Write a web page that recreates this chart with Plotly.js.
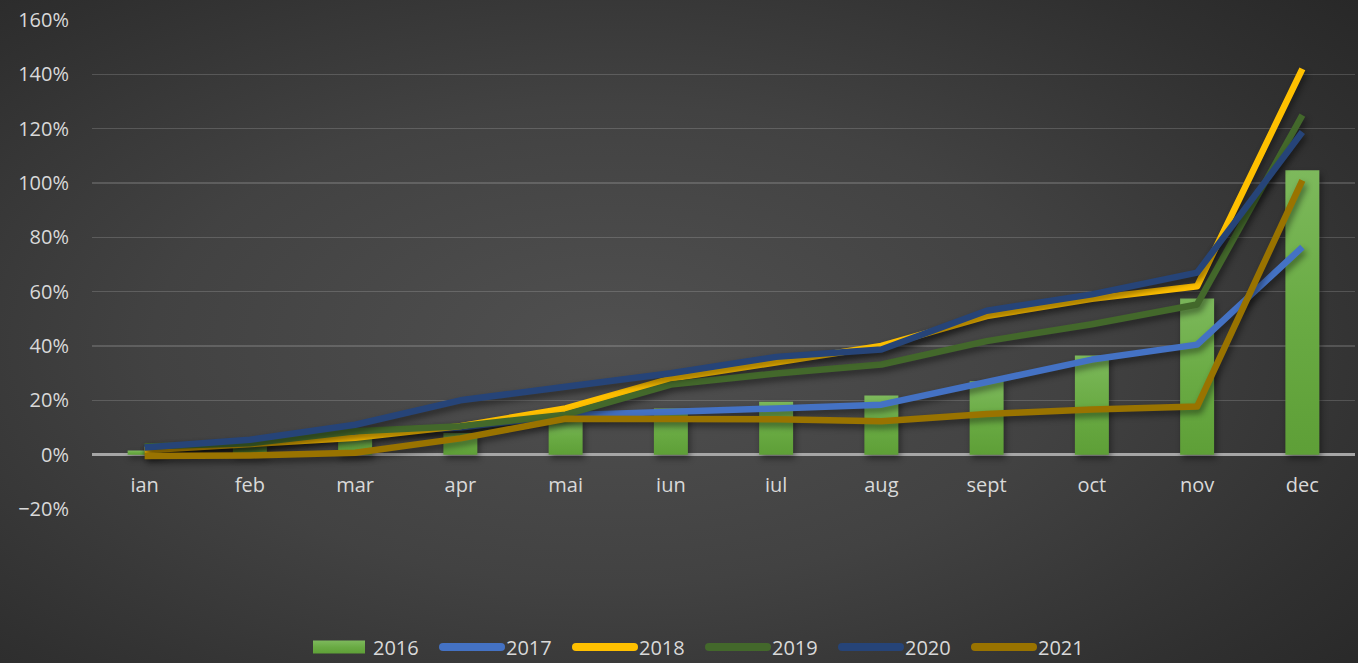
<!DOCTYPE html>
<html>
<head>
<meta charset="utf-8">
<script src="https://cdn.plot.ly/plotly-3.0.1.min.js"></script>
<style>
  html, body { margin: 0; padding: 0; }
  body {
    width: 1358px; height: 663px; overflow: hidden;
    background: radial-gradient(ellipse 75% 80% at 45% 52%, #505050 0%, #424242 45%, #303030 80%, #272727 100%);
  }
  #chart { width: 1358px; height: 663px; }
  .scatterlayer .js-line { filter: drop-shadow(2px 4px 3px rgba(0,0,0,0.45)); stroke-linejoin: round; }
  .barlayer .point path { filter: drop-shadow(2px 4px 3px rgba(0,0,0,0.4)); }
  .legend .legendlines path { stroke-width: 8px !important; stroke-linecap: round; }
</style>
</head>
<body>
<div id="chart"></div>
<script>
const months = ['ian','feb','mar','apr','mai','iun','iul','aug','sept','oct','nov','dec'];
const yTickVals = [-0.2, 0, 0.2, 0.4, 0.6, 0.8, 1.0, 1.2, 1.4, 1.6];

const s2016 = [0.015, 0.03, 0.06, 0.08, 0.13, 0.17, 0.195, 0.218, 0.27, 0.365, 0.575, 1.047];
const s2017 = [0.02, 0.04, 0.08, 0.10, 0.145, 0.156, 0.17, 0.184, 0.265, 0.35, 0.405, 0.764];
const s2018 = [0.016, 0.037, 0.062, 0.105, 0.17, 0.28, 0.34, 0.40, 0.51, 0.574, 0.62, 1.42];
const s2019 = [0.03, 0.042, 0.086, 0.105, 0.147, 0.258, 0.299, 0.332, 0.418, 0.48, 0.553, 1.25];
const s2020 = [0.026, 0.055, 0.11, 0.20, 0.25, 0.30, 0.36, 0.387, 0.53, 0.59, 0.67, 1.188];
const s2021 = [-0.005, -0.003, 0.007, 0.06, 0.132, 0.131, 0.13, 0.123, 0.15, 0.166, 0.177, 1.01];

const lineSeries = [
  {name: '2017', y: s2017, color: '#4472c4'},
  {name: '2018', y: s2018, color: '#ffc000'},
  {name: '2019', y: s2019, color: '#43682b'},
  {name: '2020', y: s2020, color: '#264478'},
  {name: '2021', y: s2021, color: '#997300'}
];

const traces = [{
  type: 'bar', name: '2016', x: months, y: s2016,
  marker: {color: '#6aab44'}, hoverinfo: 'skip'
}];
lineSeries.forEach(s => traces.push({
  type: 'scatter', mode: 'lines', name: s.name, x: months, y: s.y,
  line: {color: s.color, width: 6.5, shape: 'linear'}, hoverinfo: 'skip'
}));

const fontFam = '"Open Sans", "Noto Sans", sans-serif';
const layout = {
  width: 1358, height: 663,
  paper_bgcolor: 'rgba(0,0,0,0)', plot_bgcolor: 'rgba(0,0,0,0)',
  margin: {l: 92, r: 3, t: 20, b: 154},
  bargap: 0.677,
  font: {family: fontFam, size: 20, color: '#d9d9d9'},
  showlegend: true,
  legend: {
    orientation: 'h', xref: 'container', yref: 'container',
    x: 305/1358, xanchor: 'left', y: 0.024, yanchor: 'middle',
    font: {family: fontFam, size: 20, color: '#d9d9d9'},
    entrywidth: 60, entrywidthmode: 'pixels', itemwidth: 58,
    bgcolor: 'rgba(0,0,0,0)'
  },
  xaxis: {
    type: 'category', anchor: 'free', position: 20/180,
    showgrid: false, showline: false, zeroline: false,
    ticks: 'outside', ticklen: 12, tickcolor: 'rgba(0,0,0,0)',
    tickfont: {family: fontFam, size: 20, color: '#d9d9d9'}
  },
  yaxis: {
    range: [-0.2, 1.6], tickvals: yTickVals, tickformat: '.0%',
    showgrid: true, gridcolor: 'rgba(255,255,255,0.16)', gridwidth: 1.5,
    zeroline: true, zerolinecolor: '#a6a6a6', zerolinewidth: 2.5,
    showline: false,
    ticks: 'outside', ticklen: 18, tickcolor: 'rgba(0,0,0,0)',
    tickfont: {family: fontFam, size: 20, color: '#d9d9d9'}
  }
};

Plotly.newPlot('chart', traces, layout, {staticPlot: true, displayModeBar: false}).then(gd => {
  const svg = gd.querySelector('svg.main-svg');
  let defs = svg.querySelector('defs');
  const ns = 'http://www.w3.org/2000/svg';
  const grad = document.createElementNS(ns, 'linearGradient');
  grad.setAttribute('id', 'barGrad');
  grad.setAttribute('x1', '0'); grad.setAttribute('y1', '0');
  grad.setAttribute('x2', '0'); grad.setAttribute('y2', '1');
  [['0', '#7db95c'], ['0.5', '#6aab44'], ['1', '#5e9f37']].forEach(([o, c]) => {
    const st = document.createElementNS(ns, 'stop');
    st.setAttribute('offset', o); st.setAttribute('stop-color', c);
    grad.appendChild(st);
  });
  defs.appendChild(grad);
  gd.querySelectorAll('.barlayer .point path').forEach(p => { p.style.fill = 'url(#barGrad)'; });
  gd.querySelectorAll('.legend path.legendbar, .legend .legendpoints path').forEach(p => {
    if (p.closest('.legendlines')) return;
    const tr = p.closest('.traces');
    if (tr && tr.textContent.trim() === '2016') {
      p.setAttribute('d', 'M26,6.5H-26V-6.5H26Z');
      p.style.fill = 'url(#barGrad)';
    }
  });
});
</script>
</body>
</html>
